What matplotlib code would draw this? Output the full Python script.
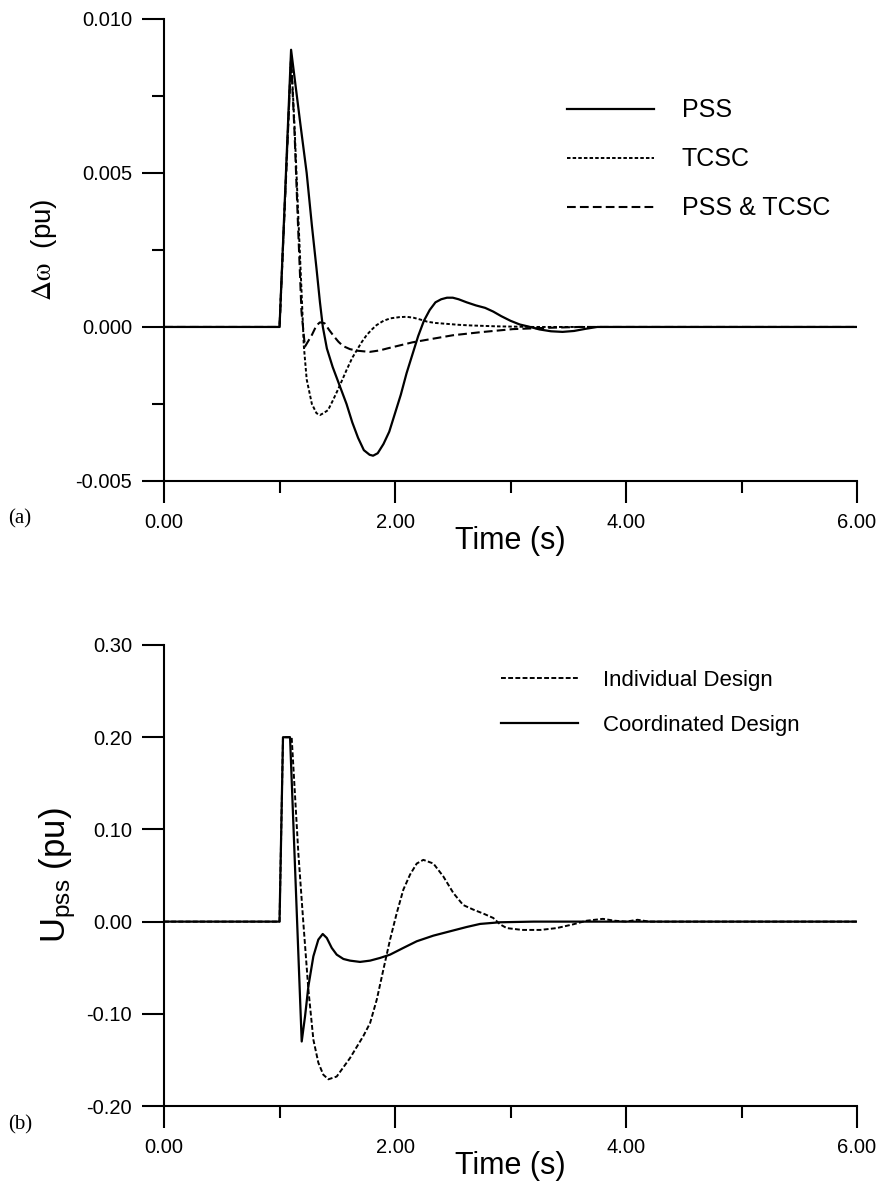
import numpy as np
import matplotlib
matplotlib.use("Agg")
import matplotlib.pyplot as plt

plt.rcParams['font.family'] = ['Liberation Sans', 'DejaVu Sans']
plt.rcParams['mathtext.fontset'] = 'stix'

# (a) rotor speed deviation
t_pss = [0, 1.0, 1.05, 1.10, 1.14, 1.18, 1.235, 1.28, 1.32, 1.35, 1.375, 1.41, 1.46, 1.52, 1.58,
         1.63, 1.68, 1.73, 1.78, 1.81, 1.85, 1.90, 1.95, 2.00, 2.05, 2.10, 2.15, 2.20, 2.25, 2.30,
         2.35, 2.40, 2.45, 2.50, 2.55, 2.62, 2.70, 2.78, 2.85, 2.92, 3.00, 3.08, 3.17, 3.25, 3.35,
         3.45, 3.55, 3.65, 3.75, 6.0]
dw_pss = [0, 0, 0.0045, 0.0090, 0.0078, 0.0066, 0.0050, 0.0033, 0.0019, 0.0008, 0.0, -0.0007,
          -0.0013, -0.0019, -0.0025, -0.0031, -0.0036, -0.0040, -0.00415, -0.00418, -0.0041,
          -0.0038, -0.0034, -0.0028, -0.0022, -0.0015, -0.0009, -0.0003, 0.0002, 0.00055, 0.0008,
          0.0009, 0.00095, 0.00095, 0.0009, 0.0008, 0.0007, 0.00062, 0.0005, 0.00035, 0.0002,
          0.00008, 0.0, -0.00008, -0.00014, -0.00016, -0.00013, -0.00006, 0.0, 0.0]

t_tcsc = [0, 1.0, 1.05, 1.10, 1.13, 1.16, 1.19, 1.21, 1.235, 1.28, 1.32, 1.35, 1.38, 1.42, 1.46,
          1.51, 1.58, 1.63, 1.67, 1.71, 1.755, 1.80, 1.84, 1.90, 1.96, 2.04, 2.10, 2.16, 2.22,
          2.28, 2.35, 2.45, 2.55, 2.65, 2.88, 3.2, 6.0]
dw_tcsc = [0, 0, 0.0044, 0.0088, 0.0065, 0.0038, 0.0012, -0.0006, -0.0017, -0.0025, -0.0028,
           -0.00286, -0.0028, -0.0027, -0.0024, -0.0020, -0.0014, -0.0010, -0.00075, -0.0005,
           -0.00026, -0.00008, 0.00006, 0.0002, 0.00028, 0.00032, 0.00033, 0.0003, 0.00024,
           0.00017, 0.00013, 0.0001, 0.00007, 0.00005, 0.00002, 0.0, 0.0]

t_both = [0, 1.0, 1.05, 1.10, 1.13, 1.16, 1.19, 1.22, 1.25, 1.28, 1.32, 1.35, 1.39, 1.43, 1.47,
          1.51, 1.55, 1.61, 1.67, 1.78, 1.87, 1.93, 2.04, 2.15, 2.3, 2.5, 2.74, 3.02, 3.3, 3.6, 6.0]
dw_both = [0, 0, 0.0043, 0.0087, 0.0063, 0.0033, 0.0005, -0.00064, -0.00045, -0.00026, 0.00005,
           0.00015, 0.00012, -0.0001, -0.0003, -0.00048, -0.00062, -0.00072, -0.00077, -0.00081,
           -0.00076, -0.0007, -0.0006, -0.0005, -0.0004, -0.00027, -0.00017, -0.00007, -0.00003,
           0.0, 0.0]

# (b) PSS output signal
t_ind = [0, 1.0, 1.03, 1.105, 1.163, 1.206, 1.25, 1.293, 1.336, 1.379, 1.423, 1.495, 1.61, 1.726,
         1.784, 1.842, 1.899, 1.957, 2.015, 2.072, 2.13, 2.188, 2.245, 2.332, 2.418, 2.505, 2.59,
         2.678, 2.765, 2.85, 2.91, 2.967, 3.1, 3.26, 3.4, 3.54, 3.66, 3.80, 3.9, 4.0, 4.1, 4.2, 6.0]
u_ind = [0, 0, 0.2, 0.2, 0.074, -0.001, -0.074, -0.128, -0.153, -0.166, -0.171, -0.168, -0.148,
         -0.124, -0.110, -0.0845, -0.052, -0.0195, 0.0094, 0.0347, 0.051, 0.063, 0.067, 0.063,
         0.049, 0.031, 0.018, 0.013, 0.0087, 0.004, -0.003, -0.007, -0.009, -0.009, -0.007,
         -0.003, 0.001, 0.003, 0.001, 0.0, 0.002, 0.0, 0.0]

t_coord = [0, 1.0, 1.03, 1.091, 1.192, 1.221, 1.25, 1.293, 1.336, 1.374, 1.409, 1.452, 1.495,
           1.553, 1.61, 1.697, 1.784, 1.87, 1.957, 2.072, 2.188, 2.332, 2.476, 2.621, 2.736,
           2.909, 3.2, 6.0]
u_coord = [0, 0, 0.2, 0.2, -0.130, -0.1026, -0.070, -0.0376, -0.0195, -0.0134, -0.0177, -0.0285,
           -0.0358, -0.0405, -0.0423, -0.0437, -0.0423, -0.0394, -0.0358, -0.0285, -0.0213,
           -0.0152, -0.0105, -0.0058, -0.0025, -0.0007, 0.0, 0.0]

fig = plt.figure(figsize=(8.8, 12), dpi=100)
ax1 = fig.add_axes([0.1864, 0.5992, 0.7875, 0.3850])
ax2 = fig.add_axes([0.1864, 0.0783, 0.7875, 0.3842])

ax1.plot(t_pss, dw_pss, color='black', lw=1.6, label='PSS')
ax1.plot(t_tcsc, dw_tcsc, color='black', lw=1.4, dashes=(1.8, 1.1), label='TCSC')
ax1.plot(t_both, dw_both, color='black', lw=1.5, dashes=(4.2, 2.0), label='PSS & TCSC')

ax2.plot(t_ind, u_ind, color='black', lw=1.4, dashes=(2.5, 1.2), label='Individual Design')
ax2.plot(t_coord, u_coord, color='black', lw=1.6, label='Coordinated Design')

for ax in (ax1, ax2):
    ax.set_xlim(0, 6)
    ax.set_xticks([0, 2, 4, 6])
    ax.set_xticklabels(['0.00', '2.00', '4.00', '6.00'])
    ax.set_xticks([1, 3, 5], minor=True)
    for s in ('top', 'right'):
        ax.spines[s].set_visible(False)
    for s in ('left', 'bottom'):
        ax.spines[s].set_linewidth(1.5)
    ax.tick_params(which='major', direction='out', length=16, width=1.5, labelsize=14.5, pad=7)
    ax.tick_params(which='minor', direction='out', length=8.5, width=1.5)
    ax.set_xlabel('Time (s)', fontsize=22, labelpad=-4)

ax1.set_ylim(-0.005, 0.010)
ax1.set_yticks([-0.005, 0.0, 0.005, 0.010])
ax1.set_yticklabels(['-0.005', '0.000', '0.005', '0.010'])
ax1.set_yticks([-0.0025, 0.0025, 0.0075], minor=True)
ax1.set_ylabel(r'$\mathrm{\Delta\omega}$  (pu)', fontsize=20, labelpad=12)

ax2.set_ylim(-0.2, 0.3)
ax2.set_yticks([-0.2, -0.1, 0.0, 0.1, 0.2, 0.3])
ax2.set_yticklabels(['-0.20', '-0.10', '0.00', '0.10', '0.20', '0.30'])
ax2.set_ylabel(r'$\mathregular{U_{pss}}$ (pu)', fontsize=25, labelpad=6)

ax1.legend(loc='upper left', bbox_to_anchor=(0.567, 0.85), frameon=False, fontsize=18,
           handlelength=3.5, handletextpad=1.1, labelspacing=1.0, borderaxespad=0)
ax2.legend(loc='upper left', bbox_to_anchor=(0.473, 0.965), frameon=False, fontsize=16,
           handlelength=3.5, handletextpad=1.1, labelspacing=1.08, borderaxespad=0)

fig.text(8 / 880, 1 - 519 / 1200, '(a)', family='Liberation Serif', fontsize=15, va='center')
fig.text(8 / 880, 1 - 1125 / 1200, '(b)', family='Liberation Serif', fontsize=15, va='center')

fig.savefig('out.png', dpi=100)
